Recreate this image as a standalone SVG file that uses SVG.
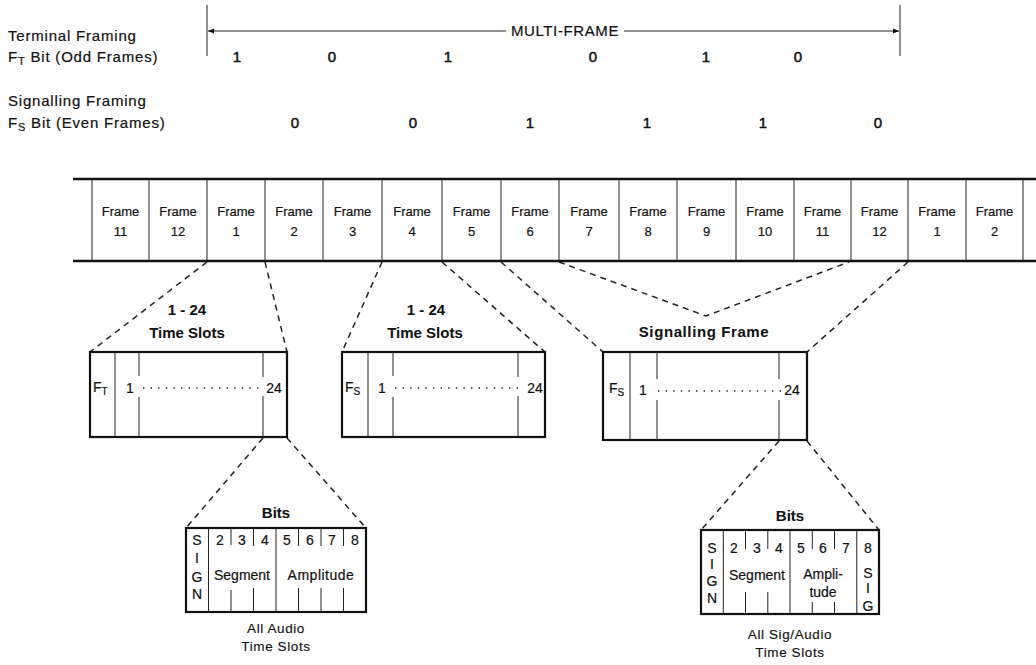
<svg xmlns="http://www.w3.org/2000/svg" width="1036" height="665" viewBox="0 0 1036 665">
<defs>
<style>
.t{font-family:"Liberation Sans",Arial,sans-serif;fill:#111;stroke:#111;stroke-width:0.2px;}
.lbl{font-size:15px;letter-spacing:0.8px;}
.dig{font-size:15px;text-anchor:middle;stroke-width:0.5px;}
.fr{font-size:13px;text-anchor:middle;}
.hd{font-size:15px;font-weight:bold;text-anchor:middle;stroke-width:0.05px;}
.in{font-size:14px;text-anchor:middle;}
.cap{font-size:13.5px;text-anchor:middle;letter-spacing:0.6px;stroke-width:0.15px;}
.thick{stroke:#111;stroke-width:2.5;fill:none;}
.box{stroke:#111;stroke-width:2.2;fill:#fff;}
.thin{stroke:#222;stroke-width:1;}
.dash{stroke:#222;stroke-width:1.5;stroke-dasharray:6 5;fill:none;}
.dots{stroke:#222;stroke-width:1.6;stroke-dasharray:1.4 6.2;}
</style>
<marker id="ah" viewBox="0 0 10 10" refX="10" refY="5" markerWidth="8" markerHeight="6" orient="auto" markerUnits="userSpaceOnUse">
<path d="M0,1 L10,5 L0,9 z" fill="#111"/>
</marker>
</defs>
<rect width="1036" height="665" fill="#fff"/>

<g id="multiframe">
<line class="thin" x1="207" y1="5" x2="207" y2="56"/>
<line class="thin" x1="900" y1="5" x2="900" y2="56"/>
<line class="thin" x1="506" y1="31" x2="208" y2="31" marker-end="url(#ah)"/>
<line class="thin" x1="624" y1="31" x2="899" y2="31" marker-end="url(#ah)"/>
<text class="t" x="565" y="36" font-size="15" text-anchor="middle" letter-spacing="0.6">MULTI-FRAME</text>
</g>

<g id="labels">
<text class="t lbl" x="8" y="41">Terminal Framing</text>
<text class="t lbl" x="8" y="62">F<tspan font-size="11" dy="3">T</tspan><tspan dy="-3"> Bit (Odd Frames)</tspan></text>
<text class="t lbl" x="8" y="106">Signalling Framing</text>
<text class="t lbl" x="8" y="128">F<tspan font-size="11" dy="3">S</tspan><tspan dy="-3"> Bit (Even Frames)</tspan></text>
</g>

<g id="ft-bits">
<text class="t dig" x="237" y="62">1</text>
<text class="t dig" x="332" y="62">0</text>
<text class="t dig" x="448" y="62">1</text>
<text class="t dig" x="593" y="62">0</text>
<text class="t dig" x="706" y="62">1</text>
<text class="t dig" x="798" y="62">0</text>
</g>
<g id="fs-bits">
<text class="t dig" x="295" y="128">0</text>
<text class="t dig" x="413" y="128">0</text>
<text class="t dig" x="530" y="128">1</text>
<text class="t dig" x="647" y="128">1</text>
<text class="t dig" x="763" y="128">1</text>
<text class="t dig" x="878" y="128">0</text>
</g>

<g id="frame-strip">
<line class="thick" x1="73" y1="179" x2="1036" y2="179"/>
<line class="thick" x1="73" y1="261" x2="1036" y2="261"/>
<g class="thin">
<line x1="92" y1="179" x2="92" y2="261"/>
<line x1="149" y1="179" x2="149" y2="261"/>
<line x1="207" y1="179" x2="207" y2="261"/>
<line x1="265" y1="179" x2="265" y2="261"/>
<line x1="323" y1="179" x2="323" y2="261"/>
<line x1="382" y1="179" x2="382" y2="261"/>
<line x1="442" y1="179" x2="442" y2="261"/>
<line x1="501" y1="179" x2="501" y2="261"/>
<line x1="559" y1="179" x2="559" y2="261"/>
<line x1="619" y1="179" x2="619" y2="261"/>
<line x1="677" y1="179" x2="677" y2="261"/>
<line x1="736" y1="179" x2="736" y2="261"/>
<line x1="794" y1="179" x2="794" y2="261"/>
<line x1="851" y1="179" x2="851" y2="261"/>
<line x1="908" y1="179" x2="908" y2="261"/>
<line x1="966" y1="179" x2="966" y2="261"/>
<line x1="1023" y1="179" x2="1023" y2="261"/>
</g>
<g id="frame-11a"><text class="t fr" x="120.5" y="216">Frame</text><text class="t fr" x="120.5" y="236">11</text></g>
<g id="frame-12a"><text class="t fr" x="178" y="216">Frame</text><text class="t fr" x="178" y="236">12</text></g>
<g id="frame-1"><text class="t fr" x="236" y="216">Frame</text><text class="t fr" x="236" y="236">1</text></g>
<g id="frame-2"><text class="t fr" x="294" y="216">Frame</text><text class="t fr" x="294" y="236">2</text></g>
<g id="frame-3"><text class="t fr" x="352.5" y="216">Frame</text><text class="t fr" x="352.5" y="236">3</text></g>
<g id="frame-4"><text class="t fr" x="412" y="216">Frame</text><text class="t fr" x="412" y="236">4</text></g>
<g id="frame-5"><text class="t fr" x="471.5" y="216">Frame</text><text class="t fr" x="471.5" y="236">5</text></g>
<g id="frame-6"><text class="t fr" x="530" y="216">Frame</text><text class="t fr" x="530" y="236">6</text></g>
<g id="frame-7"><text class="t fr" x="589" y="216">Frame</text><text class="t fr" x="589" y="236">7</text></g>
<g id="frame-8"><text class="t fr" x="648" y="216">Frame</text><text class="t fr" x="648" y="236">8</text></g>
<g id="frame-9"><text class="t fr" x="706.5" y="216">Frame</text><text class="t fr" x="706.5" y="236">9</text></g>
<g id="frame-10"><text class="t fr" x="765" y="216">Frame</text><text class="t fr" x="765" y="236">10</text></g>
<g id="frame-11"><text class="t fr" x="822.5" y="216">Frame</text><text class="t fr" x="822.5" y="236">11</text></g>
<g id="frame-12"><text class="t fr" x="879.5" y="216">Frame</text><text class="t fr" x="879.5" y="236">12</text></g>
<g id="frame-1b"><text class="t fr" x="937" y="216">Frame</text><text class="t fr" x="937" y="236">1</text></g>
<g id="frame-2b"><text class="t fr" x="994.5" y="216">Frame</text><text class="t fr" x="994.5" y="236">2</text></g>
</g>

<g id="connectors">
<line class="dash" x1="207" y1="262" x2="90" y2="352"/>
<line class="dash" x1="265" y1="262" x2="287" y2="352"/>
<line class="dash" x1="382" y1="262" x2="342" y2="352"/>
<line class="dash" x1="442" y1="262" x2="545" y2="352"/>
<line class="dash" x1="501" y1="262" x2="603" y2="352"/>
<polyline class="dash" points="559,262 706,316 849,262"/>
<line class="dash" x1="908" y1="262" x2="807" y2="352"/>
<line class="dash" x1="263" y1="438" x2="186" y2="528"/>
<line class="dash" x1="287" y1="438" x2="366" y2="528"/>
<line class="dash" x1="779" y1="441" x2="701" y2="530"/>
<line class="dash" x1="807" y1="441" x2="879" y2="530"/>
</g>

<g id="timeslots-ft">
<text class="t hd" x="187" y="315">1 - 24</text>
<text class="t hd" x="187" y="338">Time Slots</text>
<rect class="box" x="90" y="352" width="197" height="85"/>
<line class="thin" x1="115" y1="352" x2="115" y2="437"/>
<line class="thin" x1="139" y1="352" x2="139" y2="376"/>
<line class="thin" x1="139" y1="397" x2="139" y2="437"/>
<line class="thin" x1="263" y1="352" x2="263" y2="377"/>
<line class="thin" x1="263" y1="396" x2="263" y2="437"/>
<text class="t" x="93" y="392" font-size="14">F<tspan font-size="10" dy="3">T</tspan></text>
<text class="t in" x="130" y="393">1</text>
<line class="dots" x1="143" y1="388" x2="259" y2="388"/>
<text class="t in" x="274" y="393">24</text>
</g>

<g id="timeslots-fs">
<text class="t hd" x="426" y="315">1 - 24</text>
<text class="t hd" x="425" y="338">Time Slots</text>
<rect class="box" x="342" y="352" width="203" height="85"/>
<line class="thin" x1="368" y1="352" x2="368" y2="437"/>
<line class="thin" x1="393" y1="352" x2="393" y2="376"/>
<line class="thin" x1="393" y1="397" x2="393" y2="437"/>
<line class="thin" x1="518" y1="352" x2="518" y2="377"/>
<line class="thin" x1="518" y1="396" x2="518" y2="437"/>
<text class="t" x="345" y="392" font-size="14">F<tspan font-size="10" dy="3">S</tspan></text>
<text class="t in" x="382" y="393">1</text>
<line class="dots" x1="395" y1="388" x2="522" y2="388"/>
<text class="t in" x="535" y="393">24</text>
</g>

<g id="signalling-frame">
<text class="t hd" x="704" y="337" letter-spacing="0.6">Signalling Frame</text>
<rect class="box" x="603" y="352" width="204" height="88"/>
<line class="thin" x1="630" y1="352" x2="630" y2="440"/>
<line class="thin" x1="657" y1="352" x2="657" y2="379"/>
<line class="thin" x1="657" y1="400" x2="657" y2="440"/>
<line class="thin" x1="779" y1="352" x2="779" y2="379"/>
<line class="thin" x1="779" y1="400" x2="779" y2="440"/>
<text class="t" x="609" y="393" font-size="14">F<tspan font-size="10" dy="3">S</tspan></text>
<text class="t in" x="643" y="395">1</text>
<line class="dots" x1="658" y1="391" x2="782" y2="391"/>
<text class="t in" x="792" y="395">24</text>
</g>

<g id="bits-audio">
<text class="t hd" x="276" y="518" font-size="16">Bits</text>
<rect class="box" x="186" y="528" width="180" height="84"/>
<line class="thin" x1="208.5" y1="528" x2="208.5" y2="612"/>
<line class="thin" x1="276" y1="528" x2="276" y2="612"/>
<g class="thin">
<line x1="231" y1="528" x2="231" y2="545"/><line x1="231" y1="590" x2="231" y2="612"/>
<line x1="253.5" y1="528" x2="253.5" y2="546"/><line x1="253.5" y1="588" x2="253.5" y2="612"/>
<line x1="298.5" y1="528" x2="298.5" y2="546"/><line x1="298.5" y1="588" x2="298.5" y2="612"/>
<line x1="321" y1="528" x2="321" y2="546"/><line x1="321" y1="588" x2="321" y2="612"/>
<line x1="343.5" y1="528" x2="343.5" y2="546"/><line x1="343.5" y1="588" x2="343.5" y2="612"/>
</g>
<text class="t in" x="197" y="545">S</text>
<text class="t in" x="197" y="563" font-size="10">I</text>
<text class="t in" x="197" y="582">G</text>
<text class="t in" x="197" y="599">N</text>
<text class="t in" x="220" y="545">2</text>
<text class="t in" x="242" y="545">3</text>
<text class="t in" x="265" y="545">4</text>
<text class="t in" x="287" y="545">5</text>
<text class="t in" x="310" y="545">6</text>
<text class="t in" x="332" y="545">7</text>
<text class="t in" x="355" y="545">8</text>
<text class="t in" x="242" y="580">Segment</text>
<text class="t in" x="321" y="580" letter-spacing="0.5">Amplitude</text>
<text class="t cap" x="276" y="633">All Audio</text>
<text class="t cap" x="276" y="651">Time Slots</text>
</g>

<g id="bits-sig">
<text class="t hd" x="790" y="521" font-size="16">Bits</text>
<rect class="box" x="701" y="530" width="178" height="84"/>
<line class="thin" x1="723.3" y1="530" x2="723.3" y2="614"/>
<line class="thin" x1="790" y1="530" x2="790" y2="614"/>
<line class="thin" x1="856.8" y1="530" x2="856.8" y2="614"/>
<g class="thin">
<line x1="745.5" y1="530" x2="745.5" y2="549"/><line x1="745.5" y1="592" x2="745.5" y2="614"/>
<line x1="767.8" y1="530" x2="767.8" y2="549"/><line x1="767.8" y1="592" x2="767.8" y2="614"/>
<line x1="812.3" y1="530" x2="812.3" y2="549"/><line x1="812.3" y1="602" x2="812.3" y2="614"/>
<line x1="834.5" y1="530" x2="834.5" y2="549"/><line x1="834.5" y1="602" x2="834.5" y2="614"/>
</g>
<text class="t in" x="712" y="553">S</text>
<text class="t in" x="712" y="569" font-size="10">I</text>
<text class="t in" x="712" y="586">G</text>
<text class="t in" x="712" y="603">N</text>
<text class="t in" x="734" y="553">2</text>
<text class="t in" x="757" y="553">3</text>
<text class="t in" x="779" y="553">4</text>
<text class="t in" x="801" y="553">5</text>
<text class="t in" x="823" y="553">6</text>
<text class="t in" x="846" y="553">7</text>
<text class="t in" x="868" y="553">8</text>
<text class="t in" x="757" y="580" font-size="13">Segment</text>
<text class="t in" x="823" y="579">Ampli-</text>
<text class="t in" x="823" y="597">tude</text>
<text class="t in" x="868" y="578">S</text>
<text class="t in" x="868" y="593" font-size="10">I</text>
<text class="t in" x="868" y="611">G</text>
<text class="t cap" x="790" y="639">All Sig/Audio</text>
<text class="t cap" x="790" y="657">Time Slots</text>
</g>
</svg>
